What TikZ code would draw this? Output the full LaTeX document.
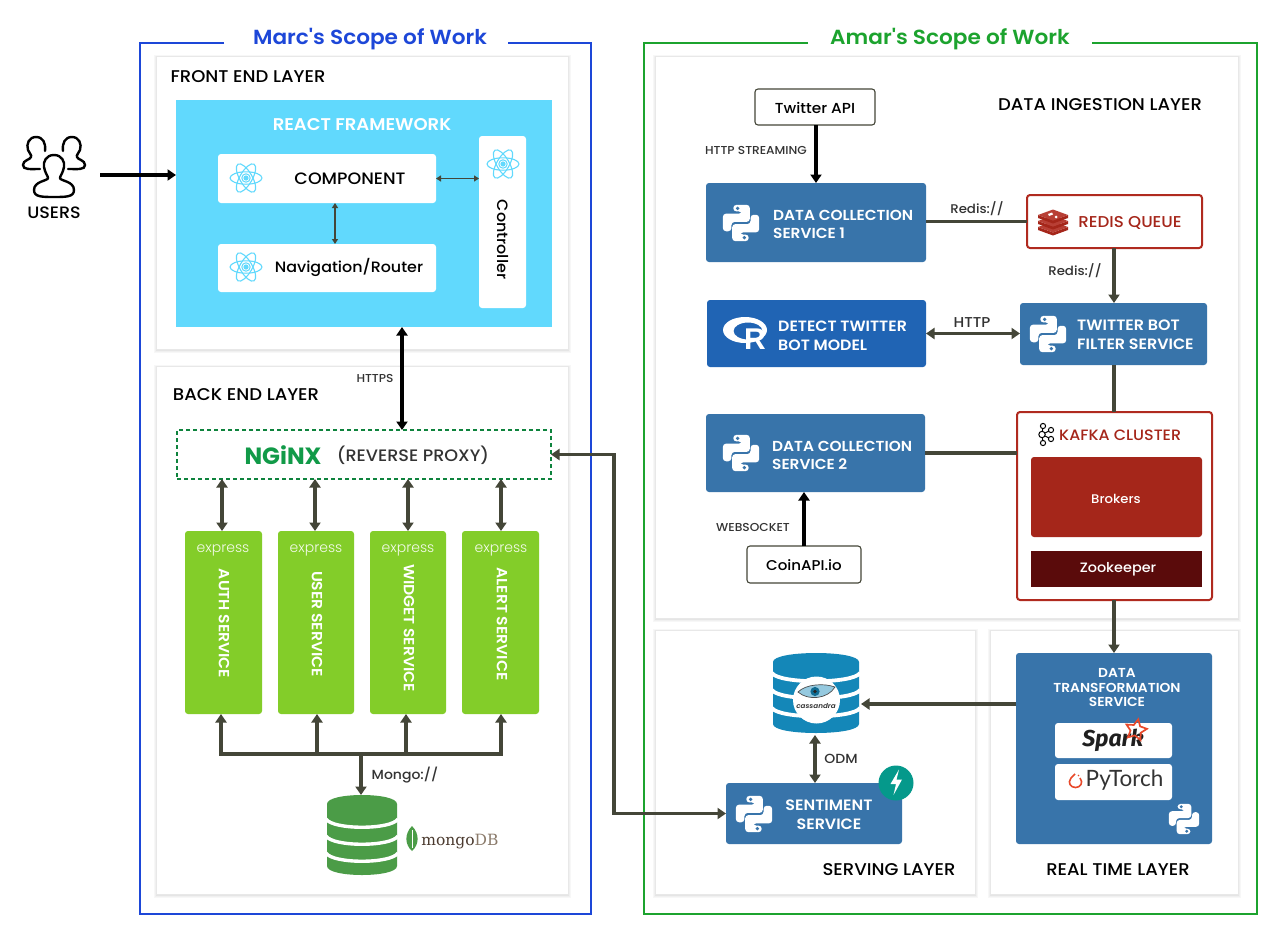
\documentclass[tikz,border=0pt]{standalone}
\usepackage{fontspec}
\usetikzlibrary{arrows.meta,shapes.geometric}
\setmainfont{Poppins}
\newfontfamily\fmed[FakeStretch=1.06]{Poppins Medium}
\newfontfamily\fsb[FakeStretch=1.06]{Poppins SemiBold}
\newfontfamily\flight{Poppins Light}
\newfontfamily\fserif{DejaVu Serif}
\newfontfamily\fhelv{Liberation Sans}
\newfontfamily\ffira{Fira Sans}
\newfontfamily\flato{Lato}
\newcommand\fz[1]{\fontsize{#1}{#1}\selectfont}
\definecolor{mblue}{HTML}{1D47D8}
\definecolor{agreen}{HTML}{1CA32E}
\definecolor{react}{HTML}{61D9FD}
\definecolor{pyblue}{HTML}{3874AA}
\definecolor{rblue}{HTML}{2064B4}
\definecolor{exgreen}{HTML}{83CD29}
\definecolor{dgr}{HTML}{444638}
\definecolor{redb}{HTML}{B02A1F}
\definecolor{brok}{HTML}{A5261A}
\definecolor{zoo}{HTML}{5A0B0B}
\definecolor{ngx}{HTML}{119A48}
\definecolor{mdb}{HTML}{4B9C47}
\definecolor{cas}{HTML}{1487B8}
\definecolor{fast}{HTML}{05998B}
\definecolor{tlbl}{HTML}{333333}
\definecolor{fire}{HTML}{E8492A}
\tikzset{
  x=1pt,y=-1pt,
  >={Triangle[length=8.5pt,width=11pt]},
  layer/.style={draw=black!9,fill=white,line width=.8},
  black arrow/.style={line width=3.4,black},
  dark arrow/.style={line width=3.2,dgr},
  fine arrow/.style={line width=1.3,dgr,>={Triangle[length=5pt,width=6pt]}},
  plain box/.style={draw=dgr,line width=1.1,fill=white,rounded corners=3},
  blue box/.style={fill=pyblue,rounded corners=3},
  white box/.style={fill=white,rounded corners=3},
  svc box/.style={fill=exgreen,rounded corners=3},
  nudge/.style={yshift=-.6pt},
  title/.style={font=\fsb\fz{20.4},inner sep=0,nudge},
  layer text/.style={font=\fmed\fz{17},text=black,inner sep=0,nudge},
  med text/.style={font=\fmed\fz{15},text=black,inner sep=0,nudge},
  small text/.style={font=\fmed\fz{11.5},text=tlbl,inner sep=0,nudge},
  conn text/.style={font=\fmed\fz{13.2},text=tlbl,inner sep=0,nudge},
  wbold/.style={font=\fsb\fz{14.7},text=white,align=left,inner sep=0,nudge},
  wctr/.style={font=\fsb\fz{13},text=white,align=center,inner sep=0,nudge},
  vsvc/.style={font=\fsb\fz{14.7},text=white,rotate=-90,inner sep=0},
  expr/.style={font=\flight\fz{14},text=white!90!exgreen,inner sep=0,nudge},
}
\newcommand\bx[7]{%
  \pgfmathsetmacro\bxw{#4-#2}\pgfmathsetmacro\bxh{#5-#3}%
  \pgfmathsetmacro\bxx{(#2+#4)/2}\pgfmathsetmacro\bxy{(#3+#5)/2}%
  \node[#6,minimum width=\bxw pt,minimum height=\bxh pt,inner sep=0,outer sep=0] (#1) at (\bxx,\bxy) {#7};}
\newcommand\shadowbox[4]{%
  \fill[black!3] (#1-2,#2-1) rectangle (#3+3,#4+4);
  \fill[black!6] (#1-1,#2) rectangle (#3+2,#4+3);
  \fill[black!10] (#1,#2) rectangle (#3+1,#4+1.5);}
\newcommand\pyico[4]{\begin{scope}[shift={(#1,#2)},scale=#3]
  \fill[white,rounded corners=3.2] (-7,-16.5)--(8,-16.5)--(8,-1)--(-8.7,-1)--(-8.7,7.5)--(-16.5,7.5)--(-16.5,-8.5)--(1,-8.5)--(1,-10.5)--(-7,-10.5)--cycle;
  \fill[white,rounded corners=3.2] (7,16.5)--(-8,16.5)--(-8,1)--(8.7,1)--(8.7,-7.5)--(16.5,-7.5)--(16.5,8.5)--(-1,8.5)--(-1,10.5)--(7,10.5)--cycle;
  \fill[#4] (-3,-13.3) circle[radius=1.7];
  \fill[#4] (3,13.3) circle[radius=1.7];
\end{scope}}
\newcommand\reactico[3]{\begin{scope}[shift={(#1,#2)},scale=#3]
  \draw[react,line width=1.1] (0,0) ellipse[x radius=16,y radius=6.2];
  \draw[react,line width=1.1,rotate=60] (0,0) ellipse[x radius=16,y radius=6.2];
  \draw[react,line width=1.1,rotate=120] (0,0) ellipse[x radius=16,y radius=6.2];
  \draw[react,line width=1] (0,0) circle[radius=4.2];
  \fill[react] (0,0) circle[radius=2.6];
\end{scope}}
\newcommand\sepcurve[4]{\draw[white,line width=#4] (#1-#2-1,#3) .. controls (#1-#2+6,#3+11) and (#1+#2-6,#3+11) .. (#1+#2+1,#3);}
\newcommand\people{%
  \draw[black,line width=2.4,line join=round]
   (54,155) .. controls (46,155) and (43,162) .. (44,167) .. controls (45,173) and (48,176) .. (48,178)
   .. controls (48,181) and (34,181) .. (34,190) .. controls (34,197) and (42,197) .. (54,197)
   .. controls (66,197) and (74,197) .. (74,190) .. controls (74,181) and (60,181) .. (60,178)
   .. controls (60,176) and (63,173) .. (64,167) .. controls (65,162) and (62,155) .. (54,155) -- cycle;
  \draw[black,line width=2.4,line cap=round]
   (45,151) .. controls (46,143) and (43,137) .. (36,137) .. controls (29,137) and (26,144) .. (28,150)
   .. controls (29,153) and (32,155) .. (31,157) .. controls (30,160) and (23,160) .. (23,165)
   .. controls (23,170) and (30,169) .. (40,169);
  \draw[black,line width=2.4,line cap=round]
   (63,151) .. controls (62,143) and (65,137) .. (72,137) .. controls (79,137) and (82,144) .. (80,150)
   .. controls (79,153) and (76,155) .. (77,157) .. controls (78,160) and (85,160) .. (85,165)
   .. controls (85,170) and (78,169) .. (68,169);}
\begin{document}
\begin{tikzpicture}
\useasboundingbox (0,0) rectangle (1280,940);
\fill[white] (0,0) rectangle (1280,940);

% ---- scope frames
\draw[mblue,line width=2] (224,43)--(140,43)--(140,914)--(591,914)--(591,43)--(508,43);
\node[title,text=mblue] (marc) at (370,38) {Marc's Scope of Work};
\draw[agreen,line width=2] (808,43)--(644,43)--(644,914)--(1257,914)--(1257,43)--(1092,43);
\node[title,text=agreen] (amar) at (950,38) {Amar's Scope of Work};

% ---- layers
\shadowbox{156}{56}{568}{349}
\bx{front}{156}{56}{568}{349}{layer}{}
\shadowbox{156}{366}{568}{894}
\bx{back}{156}{366}{568}{894}{layer}{}
\shadowbox{655}{56}{1238}{618}
\bx{ingest}{655}{56}{1238}{618}{layer}{}
\shadowbox{655}{630}{975}{894}
\bx{serving}{655}{630}{975}{894}{layer}{}
\shadowbox{990}{630}{1238}{894}
\bx{realtime}{990}{630}{1238}{894}{layer}{}
\node[layer text] (frontlbl) at (248,76) {FRONT END LAYER};
\node[layer text] (backlbl) at (246,394) {BACK END LAYER};
\node[layer text] (ingestlbl) at (1100,104) {DATA INGESTION LAYER};
\node[layer text] (servlbl) at (889,869) {SERVING LAYER};
\node[layer text] (rtlbl) at (1118,869) {REAL TIME LAYER};

% ---- users
\people
\node[med text,font=\fmed\fz{16.5}] (users) at (54,212) {USERS};
\coordinate (usersout) at (100,175);

% ---- react
\bx{reactbox}{176}{100}{552}{327}{fill=react}{}
\node[font=\fsb\fz{17},text=white,inner sep=0,nudge] (reactlbl) at (362,124) {REACT FRAMEWORK};
\bx{comp}{218}{154}{436}{203}{white box}{}
\bx{nav}{218}{244}{436}{292}{white box}{}
\bx{ctrl}{479}{136}{526}{308}{white box}{}
\node[med text,font=\fmed\fz{16.5}] (complbl) at (350,178) {COMPONENT};
\node[med text] (navlbl) at (349,267) {Navigation/Router};
\node[med text,rotate=-90,yshift=0pt] (ctrllbl) at (503,239) {Controller};
\reactico{246}{178}{1}
\reactico{246}{267}{1}
\reactico{503}{164}{1}

% ---- nginx
\bx{nginx}{177}{430}{551}{479}{draw=ngx!85!black,dashed,line width=1.1,dash pattern=on 4pt off 3pt,fill=white}{}
\node[font=\bfseries\fz{23.5},text=ngx,inner sep=0,nudge] (ngxlbl) at (283,454.5) {NGiNX};
\node[font=\fmed\fz{16.6},text=tlbl,inner sep=0,nudge] (proxylbl) at (413,454.5) {(REVERSE PROXY)};

% ---- services
\bx{auth}{185}{531}{262}{714}{svc box}{}
\bx{usersvc}{278}{531}{354}{714}{svc box}{}
\bx{widget}{370}{531}{446}{714}{svc box}{}
\bx{alert}{462}{531}{539}{714}{svc box}{}
\node[expr] (ex1) at (223,550) {express};
\node[expr] (ex2) at (316,550) {express};
\node[expr] (ex3) at (408,550) {express};
\node[expr] (ex4) at (501,550) {express};
\node[vsvc] (authlbl) at (224,623.5) {AUTH SERVICE};
\node[vsvc] (userlbl) at (317,624) {USER SERVICE};
\node[vsvc] (widgetlbl) at (409,628) {WIDGET SERVICE};
\node[vsvc] (alertlbl) at (502,624) {ALERT SERVICE};

% ---- mongo
\fill[mdb] (327,804) -- (327,866) .. controls (327,878) and (397,878) .. (397,866) -- (397,804) .. controls (397,792) and (327,792) .. (327,804) -- cycle;
\sepcurve{362}{35}{819}{3.4}
\sepcurve{362}{35}{836}{3.4}
\sepcurve{362}{35}{853}{3.4}
\coordinate (mongotop) at (361,795);
\coordinate (bus) at (361,754);
\fill[mdb] (412,826) .. controls (404,834) and (405,845) .. (412,851) .. controls (419,845) and (420,834) .. (412,826) -- cycle;
\draw[white,line width=.5] (412,830) -- (412,848);
\node[font=\fserif\fz{15.5},inner sep=0] (mongolbl) at (460,842) {\textcolor[HTML]{4B3A2F}{mongo}\textcolor[HTML]{8A7A6A}{DB}};
\node[conn text] (mongocon) at (405,774) {Mongo://};

% ---- ingestion
\bx{twitter}{755}{89}{875}{125}{plain box}{}
\node[med text,font=\fmed\fz{14.5}] (twlbl) at (815,107) {Twitter API};
\bx{dcsa}{706}{183}{926}{262}{blue box}{}
\pyico{741}{223}{1.1}{pyblue}
\node[wbold,font=\fsb\fz{14.5},anchor=west] (dcsalbl) at (773,224) {DATA COLLECTION\\[4pt]SERVICE 1};
\bx{redis}{1027}{195}{1202}{248}{draw=redb,line width=2,fill=white,rounded corners=3}{}
\foreach \yy in {227,221,215}{
  \fill[brok] (1038,\yy) -- (1053,\yy+5.5) -- (1068,\yy) -- (1068,\yy+3) -- (1053,\yy+8.5) -- (1038,\yy+3) -- cycle;
  \fill[redb!90!white] (1038,\yy) -- (1053,\yy-5.5) -- (1068,\yy) -- (1053,\yy+5.5) -- cycle;
}
\fill[white] (1048,214) -- (1052,212.5) -- (1053,214.5) -- (1049,216) -- cycle;
\fill[white] (1056,217) circle[radius=1.5];
\node[font=\fmed\fz{15.7},text=brok,inner sep=0,nudge] (redislbl) at (1130,222) {REDIS QUEUE};
\bx{detect}{707}{300}{926}{367}{fill=rblue,rounded corners=3}{}
\begin{scope}[even odd rule]
\fill[white] (745,330) ellipse[x radius=22,y radius=13] (748,331) ellipse[x radius=14.5,y radius=8.5];
\end{scope}
\node[font=\fhelv\bfseries\fz{30},text=white,inner sep=0] (rletter) at (755,339) {R};
\node[wbold,font=\fsb\fz{14.9},anchor=west] (detectlbl) at (778,335) {DETECT TWITTER\\[4pt]BOT MODEL};
\bx{filter}{1020}{303}{1207}{365}{blue box}{}
\pyico{1048}{334}{1.1}{pyblue}
\node[wbold,font=\fsb\fz{15},anchor=west] (filterlbl) at (1077,334) {TWITTER BOT\\[4pt]FILTER SERVICE};
\bx{kafka}{1017}{412}{1212}{600}{draw=redb,line width=2,fill=white,rounded corners=3}{}
\begin{scope}[black,line width=1]
  \draw (1043,426)--(1042,434.5)--(1043,443);
  \draw (1042,434.5)--(1051,430) (1042,434.5)--(1051,439);
  \draw[fill=white] (1043,426) circle[radius=2.6] (1043,443) circle[radius=2.6] (1042,434.5) circle[radius=3.2] (1051,430) circle[radius=2.6] (1051,439) circle[radius=2.6];
\end{scope}
\node[font=\fmed\fz{15},text=brok,inner sep=0,anchor=west,nudge] (kafkalbl) at (1059,435) {KAFKA CLUSTER};
\bx{brokers}{1031}{457}{1202}{537}{fill=brok,rounded corners=3}{}
\node[font=\fmed\fz{12.5},text=white,inner sep=0,nudge] (brokerlbl) at (1116,498) {Brokers};
\bx{zookeeper}{1031}{551}{1202}{587}{fill=zoo}{}
\node[font=\fmed\fz{13.6},text=white,inner sep=0,nudge] (zoolbl) at (1118,569) {Zookeeper};
\bx{dcsb}{706}{414}{925}{492}{blue box}{}
\pyico{741}{453}{1.1}{pyblue}
\node[wbold,font=\fsb\fz{14.5},anchor=west] (dcsblbl) at (772,455) {DATA COLLECTION\\[4pt]SERVICE 2};
\bx{coin}{747}{546}{861}{583}{plain box}{}
\node[med text,font=\fmed\fz{14.2}] (coinlbl) at (804,564) {CoinAPI.io};
\node[small text] (httpslbl) at (375,378) {HTTPS};
\node[small text] (streamlbl) at (756,150) {HTTP STREAMING};
\node[small text] (wslbl) at (753,527) {WEBSOCKET};
\node[conn text,font=\fmed\fz{12.6}] (redisa) at (977,208) {Redis://};
\node[conn text,font=\fmed\fz{12.6}] (redisb) at (1075,270) {Redis://};
\node[conn text,font=\fmed\fz{14.3}] (httplbl) at (972,322) {HTTP};

% ---- real time
\bx{trans}{1016}{653}{1212}{844}{blue box}{}
\node[wctr] (translbl) at (1117,687) {DATA\\[1.2pt]TRANSFORMATION\\[1.2pt]SERVICE};
\bx{sparkbox}{1055}{723}{1172}{758}{white box}{}
\bx{torchbox}{1055}{764}{1172}{800}{white box}{}
\node[font=\ffira\bfseries\itshape\fz{23},text=black!88,inner sep=0] (sparklbl) at (1113,740) {Spark};
\node[star,star points=5,star point ratio=2.0,draw=fire,line width=1.7,minimum size=22pt,inner sep=0,outer sep=0,rotate=-12] (sparkstar) at (1136,730) {};
\node[font=\flato\fz{22.5},text=tlbl,inner sep=0] (torchlbl) at (1124.5,780) {PyTorch};
\draw[fire,line width=1.6] (1075,774) -- (1071,778) .. controls (1067,783) and (1071,787.5) .. (1075.5,787.5) .. controls (1080,787.5) and (1084,783) .. (1080,778);
\fill[fire] (1078.5,775.5) circle[radius=.9];
\pyico{1184}{819}{.92}{pyblue}

% ---- serving
\fill[cas] (773,662) -- (773,724) .. controls (773,736) and (859,736) .. (859,724) -- (859,662) .. controls (859,650) and (773,650) .. (773,662) -- cycle;
\sepcurve{816}{43}{673}{3.8}
\sepcurve{816}{43}{690}{3.8}
\sepcurve{816}{43}{708}{3.8}
\fill[white] (816.5,700) circle[radius=23.5];
\draw[black!70,line width=.7,fill=cas!45!white] (798,692) .. controls (806,684) and (824,683) .. (835,687) .. controls (828,699) and (808,701) .. (798,692) -- cycle;
\fill[cas!80!black] (815,691.5) circle[radius=4.6];
\fill[black!85] (815,691.5) circle[radius=1.9];
\node[font=\fsb\itshape\fz{6.8},text=black!80,inner sep=0] (caslbl) at (816,706) {cassandra};
\coordinate (casright) at (861,704);
\coordinate (casbottom) at (815,735);
\bx{sent}{726}{783}{902}{844}{blue box}{}
\pyico{754}{814}{1.1}{pyblue}
\node[wctr,font=\fsb\fz{15}] (sentlbl) at (829,814) {SENTIMENT\\[4pt]SERVICE};
\node[circle,fill=fast,minimum size=35pt,inner sep=0,outer sep=0] (fastapi) at (896,783) {};
\fill[white] (899,769.5) -- (890.5,784) -- (896,784) -- (893.5,795) -- (902,779.5) -- (896.5,779.5) -- cycle;
\node[conn text] (odmlbl) at (841,758) {ODM};

% ---- connectors
\draw[->,black arrow] (usersout) -- (usersout -| reactbox.west);
\draw[<->,black arrow] (402,0 |- reactbox.south) -- (402,0 |- nginx.north);
\draw[<->,fine arrow] (comp.east) -- (comp.east -| ctrl.west);
\draw[<->,fine arrow] (335,0 |- comp.south) -- (335,0 |- nav.north);
\draw[<->,dark arrow] (222,0 |- nginx.south) -- (222,0 |- auth.north);
\draw[<->,dark arrow] (315,0 |- nginx.south) -- (315,0 |- usersvc.north);
\draw[<->,dark arrow] (408,0 |- nginx.south) -- (408,0 |- widget.north);
\draw[<->,dark arrow] (501,0 |- nginx.south) -- (501,0 |- alert.north);
\draw[dark arrow,line cap=rect] (221,0 |- bus) -- (501,0 |- bus);
\draw[->,dark arrow] (221,0 |- bus) -- (221,0 |- auth.south);
\draw[->,dark arrow] (317,0 |- bus) -- (317,0 |- usersvc.south);
\draw[->,dark arrow] (406,0 |- bus) -- (406,0 |- widget.south);
\draw[->,dark arrow] (501,0 |- bus) -- (501,0 |- alert.south);
\draw[->,dark arrow] (bus) -- (mongotop);
\coordinate (elbow) at (614,630);
\draw[<->,dark arrow] (nginx.east) -| (elbow) |- (sent.west);
\draw[->,black arrow] (816,0 |- twitter.south) -- (816,0 |- dcsa.north);
\draw[dark arrow] (dcsa.east |- redis.west) -- (redis.west);
\draw[->,dark arrow] (1114,0 |- redis.south) -- (1114,0 |- filter.north);
\draw[<->,dark arrow] (detect.east) -- (detect.east -| filter.west);
\draw[dark arrow] (1114,0 |- filter.south) -- (1114,0 |- kafka.north);
\draw[dark arrow] (dcsb.east) -- (dcsb.east -| kafka.west);
\draw[->,black arrow] (804,0 |- coin.north) -- (804,0 |- dcsb.south);
\draw[->,dark arrow] (1114,0 |- kafka.south) -- (1114,0 |- trans.north);
\draw[->,dark arrow] (trans.west |- casright) -- (casright);
\draw[<->,dark arrow] (casbottom) -- (casbottom |- sent.north);
\end{tikzpicture}
\end{document}
